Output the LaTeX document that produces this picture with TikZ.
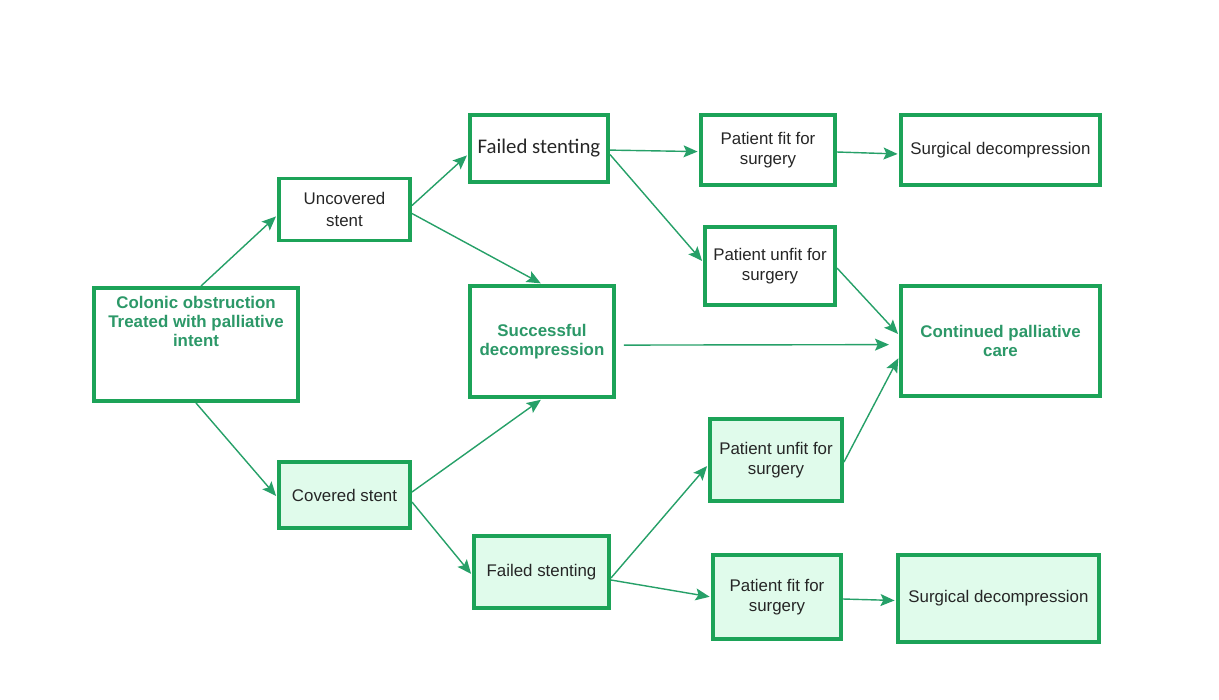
\documentclass[tikz,border=0pt]{standalone}
\usepackage{fontspec}
\setmainfont{Liberation Sans}
\newfontfamily\calib{Carlito}
\usepackage{tikz}
\usetikzlibrary{arrows.meta}
\definecolor{boxgreen}{RGB}{28,163,88}
\definecolor{linegreen}{RGB}{38,160,104}
\definecolor{fillgreen}{RGB}{224,251,235}
\definecolor{textgreen}{RGB}{44,152,104}

\begin{document}
\begin{tikzpicture}[x=0.025cm,y=-0.025cm,-{Stealth[length=10pt,width=8.5pt,inset=2pt]},
                    shorten >=1pt,line width=1pt]
  \tikzstyle{box}=[draw=boxgreen,line width=2.8pt,align=center,text=black!85,
                   font=\fontsize{12}{14.2}\selectfont,inner sep=2pt]
  \tikzstyle{shaded}=[box,fill=fillgreen]
  \tikzstyle{green text}=[text=textgreen,font=\fontsize{12}{13.6}\selectfont\bfseries]
  \useasboundingbox (0,0) rectangle (1219,699);

  \node[box,green text,minimum width=5.1cm,minimum height=2.825cm]
        (col)     at (196,344.5)  {Colonic obstruction\\Treated with palliative\\intent\\[19pt]~};
  \node[box,minimum width=3.275cm,minimum height=1.55cm]
        (unc)     at (344.5,209.5) {Uncovered\\[2pt]stent};
  \node[box,font=\calib\fontsize{14.8}{17}\selectfont,minimum width=3.45cm,minimum height=1.675cm]
        (failA)   at (539,148.5)  {Failed stenting};
  \node[box,minimum width=3.35cm,minimum height=1.75cm]
        (fitA)    at (768,150)    {Patient fit for\\surgery};
  \node[box,minimum width=4.975cm,minimum height=1.75cm]
        (surgA)   at (1000.5,150) {Surgical decompression};
  \node[box,minimum width=3.25cm,minimum height=1.95cm]
        (unfitA)  at (770,266)    {Patient unfit for\\surgery};
  \node[box,green text,minimum width=3.6cm,minimum height=2.775cm]
        (success) at (542,341.5)  {Successful\\decompression};
  \node[box,green text,minimum width=4.975cm,minimum height=2.75cm]
        (contin)  at (1000.5,341) {Continued palliative\\care};
  \node[shaded,minimum width=3.275cm,minimum height=1.65cm]
        (cov)     at (344.5,495)  {Covered stent};
  \node[shaded,minimum width=3.375cm,minimum height=1.8cm]
        (failB)   at (541.5,572)  {Failed stenting};
  \node[shaded,minimum width=3.3cm,minimum height=2.05cm]
        (unfitB)  at (776,460)    {Patient unfit for\\surgery};
  \node[shaded,minimum width=3.2cm,minimum height=2.1cm]
        (fitB)    at (777,597)    {Patient fit for\\surgery};
  \node[shaded,minimum width=5.025cm,minimum height=2.175cm]
        (surgB)   at (998.5,598.5) {Surgical decompression};

  \path[color=linegreen]
    ([xshift=0.125cm]col.north)     edge ([yshift=-0.15cm]unc.west)
    (col.south)                     edge ([yshift=-0.05cm]cov.west)
    ([yshift=0.1cm]unc.east)        edge ([yshift=-0.15cm]failA.west)
    ([yshift=-0.1cm]unc.east)       edge (success.north)
    ([yshift=0.075cm]cov.east)      edge (success.south)
    ([yshift=-0.175cm]cov.east)     edge ([yshift=-0.075cm]failB.west)
    ([yshift=-0.04cm]failA.east)    edge ([yshift=-0.04cm]fitA.west)
    ([yshift=-0.15cm]failA.east)    edge ([yshift=0.1cm]unfitA.west)
    ([yshift=-0.05cm]fitA.east)     edge ([yshift=-0.1cm]surgA.west)
    ([yshift=-0.09cm]success.east)  edge[shorten <=0.2cm,shorten >=0.25cm] ([yshift=-0.09cm]contin.west)
    ([yshift=-0.05cm]unfitA.east)   edge ([yshift=0.15cm]contin.west)
    ([yshift=-0.05cm]unfitB.east)   edge ([yshift=-0.4cm]contin.west)
    ([yshift=-0.15cm]failB.east)    edge ([yshift=-0.125cm]unfitB.west)
    ([yshift=-0.2cm]failB.east)     edge (fitB.west)
    ([yshift=-0.05cm]fitB.east)     edge ([yshift=-0.05cm]surgB.west);
\end{tikzpicture}
\end{document}
